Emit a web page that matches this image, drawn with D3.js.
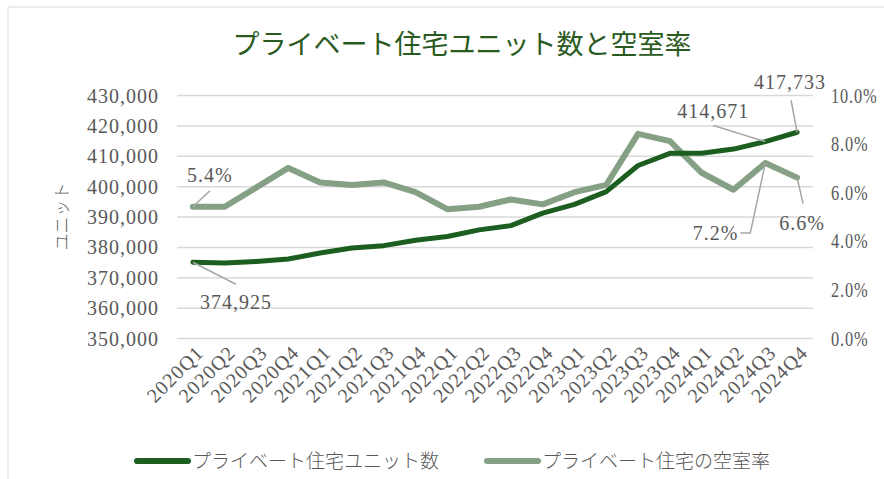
<!doctype html>
<html>
  <head>
    <meta charset="utf-8">
    <title>プライベート住宅ユニット数と空室率</title>
    <style>
      body { margin: 0; background: #fff; }
      svg { display: block; }
      .tick text, .lbl { font-family: "Liberation Serif", serif; font-size: 20px; fill: #595959; letter-spacing: 1px; }
      .xlbl { font-family: "Liberation Serif", serif; font-size: 20.5px; fill: #595959; letter-spacing: 2px; }
      .rlbl { font-family: "Liberation Serif", serif; font-size: 20px; fill: #595959; letter-spacing: 0px; }
      .grid line { stroke: #d9d9d9; stroke-width: 1.5px; }
      .leader { fill: none; stroke: #a6a6a6; stroke-width: 1.5px; }
      .jp { font-family: "Noto Sans CJK JP", sans-serif; fill: #595959; }
    </style>
    <script src="https://cdn.jsdelivr.net/npm/d3@7/dist/d3.min.js"></script>
  </head>
  <body>
  </body>
  <script>
    // data
    const quarters = ["2020Q1","2020Q2","2020Q3","2020Q4","2021Q1","2021Q2","2021Q3","2021Q4",
      "2022Q1","2022Q2","2022Q3","2022Q4","2023Q1","2023Q2","2023Q3","2023Q4",
      "2024Q1","2024Q2","2024Q3","2024Q4"];
    const units = [374925, 374700, 375200, 376000, 378000, 379600, 380400, 382200,
      383400, 385600, 387000, 391100, 394000, 398200, 406800, 410800,
      410800, 412200, 414671, 417733];
    const vacancy = [0.054, 0.054, 0.062, 0.070, 0.064, 0.063, 0.064, 0.060,
      0.053, 0.054, 0.057, 0.055, 0.060, 0.063, 0.084, 0.081,
      0.068, 0.061, 0.072, 0.066];
    const leftTicks = [350000, 360000, 370000, 380000, 390000, 400000, 410000, 420000, 430000];
    const rightTicks = [0, 0.02, 0.04, 0.06, 0.08, 0.10];

    const W = 884, H = 479;
    const margin = {top: 95, right: 71, bottom: 141, left: 177};
    const width = W - margin.left - margin.right,
          height = H - margin.top - margin.bottom;

    const svg = d3.select("body").append("svg")
        .attr("width", W)
        .attr("height", H);

    // chart area border
    svg.append("rect")
        .attr("x", 8).attr("y", 7)
        .attr("width", W).attr("height", H)
        .attr("fill", "none")
        .attr("stroke", "#d9d9d9");

    const g = svg.append("g")
        .attr("transform", "translate(" + margin.left + "," + margin.top + ")");

    const x = d3.scaleBand().domain(quarters).range([0, width]);
    const cx = d => x(d) + x.bandwidth() / 2;
    const yL = d3.scaleLinear().domain([350000, 430000]).range([height, 0]);
    const yR = d3.scaleLinear().domain([0, 0.10]).range([height, 0]);

    // gridlines
    g.append("g").attr("class", "grid")
      .call(d3.axisLeft(yL).tickValues(leftTicks).tickSize(-width).tickFormat(""))
      .call(s => s.select(".domain").remove());

    // left axis
    g.append("g")
      .call(d3.axisLeft(yL).tickValues(leftTicks).tickSize(0).tickPadding(18).tickFormat(d3.format(",")))
      .call(s => s.select(".domain").remove())
      .selectAll("text").attr("class", "lbl").attr("dy", "0.35em");

    // right axis (narrow numerals like the original font)
    const sx = 0.82;
    g.append("g")
      .attr("transform", "translate(" + width + ",0)")
      .call(d3.axisRight(yR).tickValues(rightTicks).tickSize(0).tickFormat(d3.format(".1%")))
      .call(s => s.select(".domain").remove())
      .selectAll("text").attr("class", "rlbl").attr("dy", "0.35em")
        .attr("x", 18 / sx)
        .attr("transform", "scale(" + sx + ",1)");

    // x axis labels, rotated
    g.append("g")
      .attr("transform", "translate(0," + height + ")")
      .call(d3.axisBottom(x).tickSize(0).tickFormat(d => d))
      .call(s => s.select(".domain").remove())
      .selectAll("text")
        .attr("class", "xlbl")
        .attr("text-anchor", "end")
        .attr("transform", "translate(7,11) rotate(-45)")
        .attr("x", 0).attr("y", 0).attr("dy", "0.35em");

    // y axis title
    svg.append("text")
      .attr("class", "jp")
      .attr("transform", "translate(62," + (margin.top + height / 2) + ") rotate(-90)")
      .attr("text-anchor", "middle")
      .attr("dy", "0.35em")
      .style("font-size", "17px")
      .style("font-weight", 300)
      .text("ユニット");

    // title
    svg.append("text")
      .attr("x", 462).attr("y", 45)
      .attr("text-anchor", "middle")
      .attr("dy", "0.35em")
      .style("font-family", "'Noto Sans CJK JP', sans-serif")
      .style("font-size", "27px")
      .style("font-weight", 400)
      .style("fill", "#2b5a1e")
      .text("プライベート住宅ユニット数と空室率");

    const unitColor = "#1b5e20", vacColor = "#86a086";

    const lineU = d3.line().x((d, i) => cx(quarters[i])).y(d => yL(d));
    const lineV = d3.line().x((d, i) => cx(quarters[i])).y(d => yR(d));

    g.append("path").datum(vacancy)
      .attr("d", lineV)
      .attr("fill", "none").attr("stroke", vacColor)
      .attr("stroke-width", 6).attr("stroke-linejoin", "round").attr("stroke-linecap", "round");

    g.append("path").datum(units)
      .attr("d", lineU)
      .attr("fill", "none").attr("stroke", unitColor)
      .attr("stroke-width", 5).attr("stroke-linejoin", "round").attr("stroke-linecap", "round");

    // data labels: index, series, text offset, leader path offsets (relative to the point)
    const labels = [
      {i: 0, s: "v", text: "5.4%", tx: 17, ty: -32, anchor: "middle", leader: [[0, 0], [17, -16]]},
      {i: 0, s: "u", text: "374,925", tx: 43, ty: 40, anchor: "middle", leader: [[0, 0], [43, 22]]},
      {i: 18, s: "u", text: "414,671", tx: -52, ty: -31, anchor: "middle", leader: [[0, 0], [-52, -16]]},
      {i: 19, s: "u", text: "417,733", tx: -7, ty: -50, anchor: "middle", leader: [[0, 0], [-6, -32]]},
      {i: 18, s: "v", text: "7.2%", tx: -27, ty: 70, anchor: "end", leader: [[0, 0], [-15, 70], [-25, 70]]},
      {i: 19, s: "v", text: "6.6%", tx: 5, ty: 45, anchor: "middle", leader: [[0, 0], [6, 26]]}
    ];

    labels.forEach(l => {
      const px = cx(quarters[l.i]);
      const py = l.s === "u" ? yL(units[l.i]) : yR(vacancy[l.i]);
      g.append("path").attr("class", "leader")
        .attr("d", d3.line()(l.leader.map(p => [px + p[0], py + p[1]])));
      g.append("text").attr("class", "lbl")
        .attr("x", px + l.tx).attr("y", py + l.ty)
        .attr("dy", "0.35em")
        .attr("text-anchor", l.anchor)
        .text(l.text);
    });

    // legend
    const legend = svg.append("g").attr("transform", "translate(0,461)");
    const items = [
      {name: "プライベート住宅ユニット数", color: unitColor, x: 137},
      {name: "プライベート住宅の空室率", color: vacColor, x: 487}
    ];
    items.forEach(it => {
      legend.append("line")
        .attr("x1", it.x).attr("x2", it.x + 51)
        .attr("stroke", it.color).attr("stroke-width", 6).attr("stroke-linecap", "round");
      legend.append("text").attr("class", "jp")
        .attr("x", it.x + 55).attr("dy", "0.35em")
        .style("font-size", "19px")
        .style("font-weight", 300)
        .text(it.name);
    });
  </script>
</html>
